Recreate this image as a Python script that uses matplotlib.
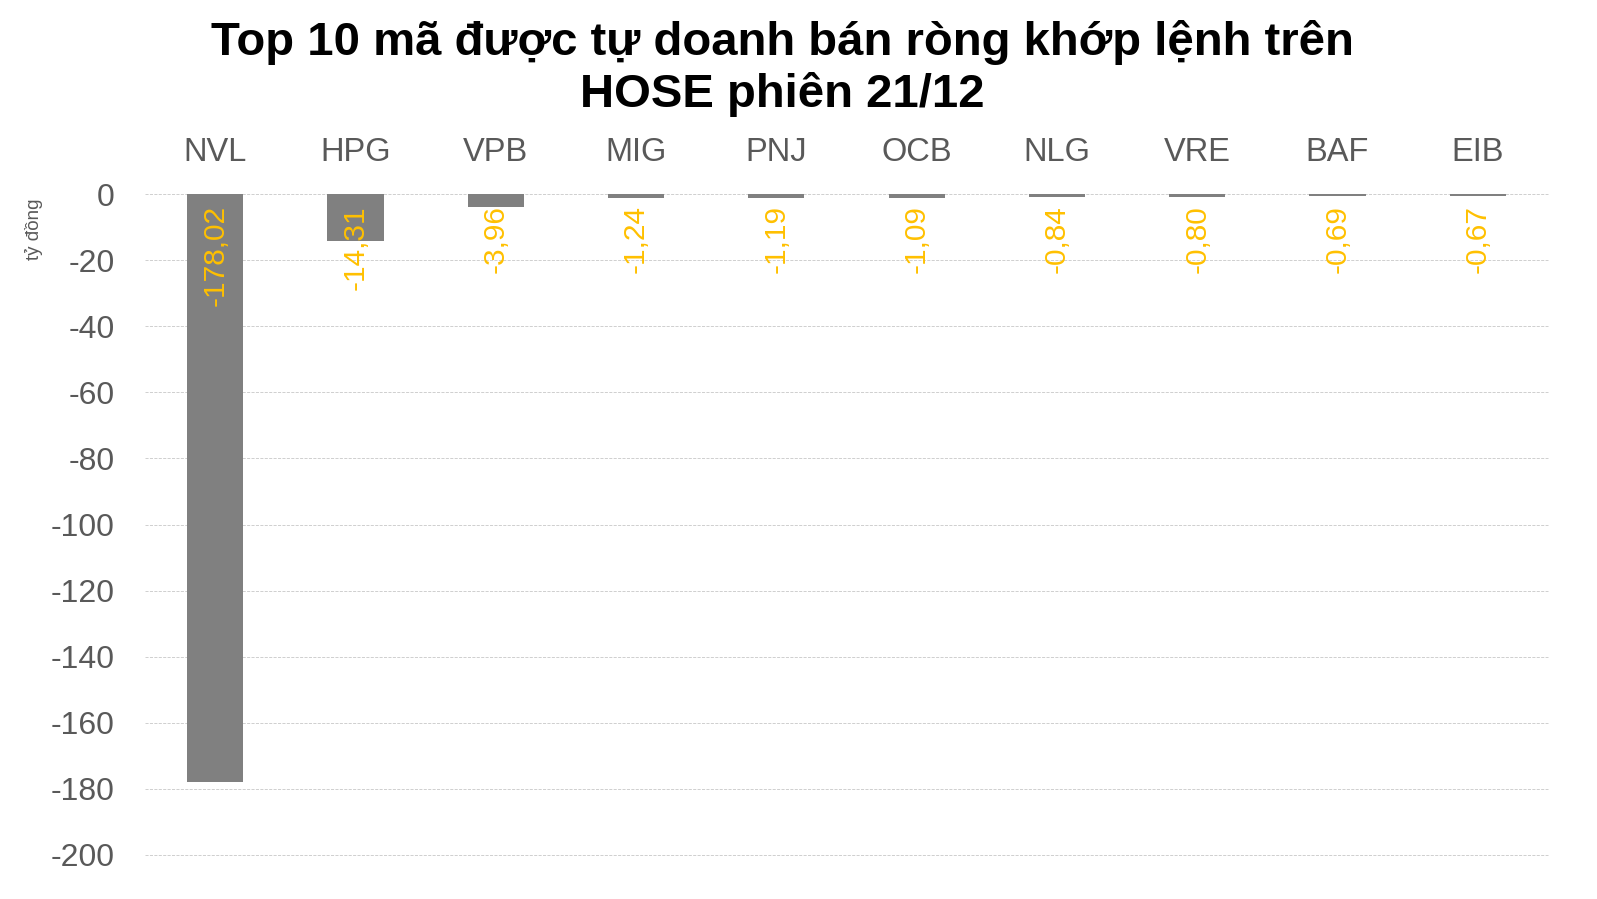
import matplotlib
matplotlib.use('Agg')
import matplotlib.pyplot as plt

plt.rcParams['font.family'] = ['Liberation Sans', 'DejaVu Sans']

title = 'Top 10 mã được tự doanh bán ròng khớp lệnh trên\nHOSE phiên 21/12'
tickers = ['NVL', 'HPG', 'VPB', 'MIG', 'PNJ', 'OCB', 'NLG', 'VRE', 'BAF', 'EIB']
net_sell = [-178.02, -14.31, -3.96, -1.24, -1.19, -1.09, -0.84, -0.80, -0.69, -0.67]
y_ticks = list(range(0, -201, -20))

bar_color = '#808080'
label_color = '#FFC000'
text_gray = '#595959'

fig = plt.figure(figsize=(15.97, 8.99), dpi=100)
ax = fig.add_axes([0.0908, 0.049, 0.8785, 0.735])

x = range(len(tickers))
ax.bar(x, net_sell, width=0.4, color=bar_color, zorder=3)

# value labels, rotated, hanging from the zero line
for xi, v in zip(x, net_sell):
    ax.annotate(f'{v:.2f}'.replace('.', ','), (xi, 0), xytext=(0, -8),
                textcoords='offset points', rotation=90, ha='center', va='top',
                color=label_color, fontsize=21.5, zorder=4)

ax.set_xlim(-0.5, len(tickers) - 0.5)
ax.set_ylim(-200, 0)
ax.set_yticks(y_ticks)
ax.set_yticklabels([str(t) for t in y_ticks])
ax.xaxis.tick_top()
ax.set_xticks(list(x))
ax.set_xticklabels(tickers)
ax.tick_params(axis='x', length=0, pad=19, labelsize=23.5, labelcolor=text_gray)
ax.tick_params(axis='y', length=0, pad=22, labelsize=23, labelcolor=text_gray)
ax.yaxis.grid(True, linestyle='--', linewidth=0.6, color='#c8c8c8', zorder=0)
for gl in ax.yaxis.get_gridlines():
    gl.set_clip_on(False)
ax.set_axisbelow(True)
for s in ax.spines.values():
    s.set_visible(False)

fig.text(0.021, 0.745, 'tỷ đồng', rotation=90, ha='center', va='center',
         fontsize=13.5, color=text_gray)
fig.text(0.490, 0.978, title, ha='center', va='top', fontsize=34,
         fontweight='bold', color='black', linespacing=1.2)

fig.savefig('out.png', dpi=100)
